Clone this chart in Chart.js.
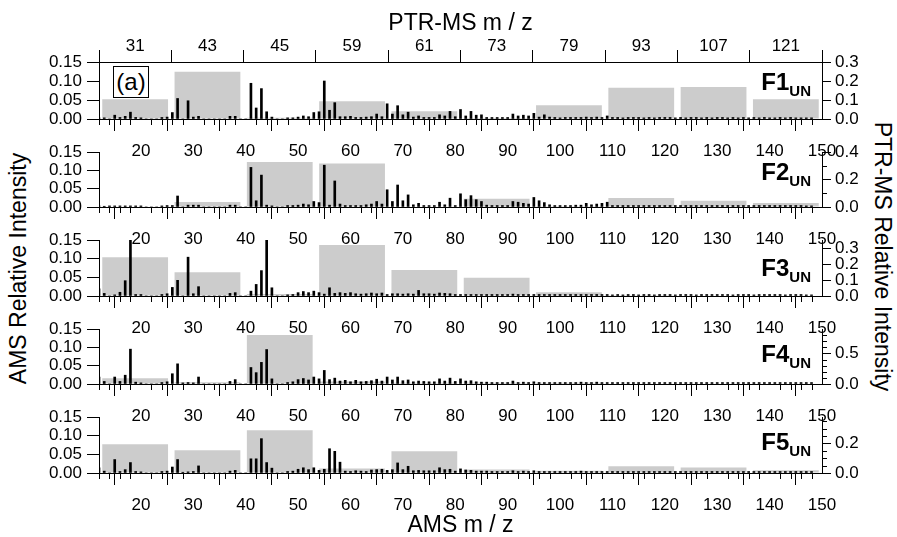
<!DOCTYPE html>
<html>
<head>
<meta charset="utf-8">
<script src="https://cdn.jsdelivr.net/npm/chart.js@4.4.1/dist/chart.umd.min.js"></script>
<style>
  body { margin: 0; background: #fff; width: 897px; height: 537px; overflow: hidden; position: relative;
         font-family: 'Liberation Sans', Arial, sans-serif; color: #000; }
  canvas { position: absolute; left: 0; }
  .flab { position: absolute; right: 86px; font-weight: bold; font-size: 24px; line-height: 1; }
  .flab sub { font-size: 15px; vertical-align: -6px; }
  .tag { position: absolute; left: 113px; top: 66px; width: 34px; height: 30px; border: 1.5px solid #000;
         font-size: 24px; line-height: 30px; text-align: center; }
  .ytitle { position: absolute; font-size: 23px; white-space: nowrap; transform-origin: center center; }
</style>
</head>
<body>
<div class="ytitle" id="leftTitle">AMS Relative Intensity</div>
<div class="ytitle" id="rightTitle">PTR-MS Relative Intensity</div>
<div class="tag">(a)</div>

<script>
// AMS m/z axis (bottom) and PTR-MS ions (top)
const amsMz = [];
for (let m = 12; m <= 150; m++) amsMz.push(m);
const amsTicks = [20, 30, 40, 50, 60, 70, 80, 90, 100, 110, 120, 130, 140, 150];
const amsYTicks = [0, 0.05, 0.10, 0.15];
const ptrLabels = ['31', '43', '45', '59', '61', '73', '79', '93', '107', '121'];
const factorNames = ['F1', 'F2', 'F3', 'F4', 'F5'];

// AMS spectra, m/z 12 ... 150
const amsF1 = [
  0.003, 0.003, 0, 0.010, 0.004, 0.007, 0.018, 0.004, 0.003, 0, 0, 0, 0.004, 0.005, 0.017, 0.054, 0, 0.048, 0.005,
  0.007, 0, 0, 0, 0, 0, 0.007, 0.007, 0, 0, 0.094, 0.029, 0.080, 0.019, 0.005, 0, 0, 0.003, 0.003,
  0.005, 0.008, 0.006, 0.017, 0.019, 0.100, 0.023, 0.043, 0.006, 0.006, 0.007, 0.004, 0.004, 0.005, 0.006, 0.013, 0.006,
  0.040, 0.013, 0.035, 0.011, 0.018, 0.005, 0.008, 0.004, 0.004, 0.004, 0.011, 0.008, 0.020, 0.006, 0.025, 0.008, 0.020,
  0.010, 0.011, 0.004, 0.004, 0.004, 0.004, 0.004, 0.013, 0.008, 0.010, 0.008, 0.015, 0.005, 0.011, 0.005, 0.004,
  0.003, 0.004, 0.004, 0.004, 0.004, 0.005, 0.004, 0.005, 0.004, 0.008, 0.004, 0.004, 0.003, 0.004, 0.004, 0.004,
  0.003, 0.004, 0.003, 0.004, 0.004, 0.004, 0.003, 0.004, 0.003, 0.004, 0.004, 0.003, 0.004, 0.003, 0.004, 0.004,
  0.003, 0.004, 0.003, 0.004, 0.003, 0.004, 0.003, 0.004, 0.003, 0.003, 0.004, 0.003, 0.004, 0.003, 0.003, 0.003, 0.003
];
const amsF2 = [
  0.003, 0.002, 0.003, 0.003, 0.003, 0.003, 0.003, 0.003, 0.003, 0, 0, 0, 0.003, 0.004, 0.004, 0.030, 0, 0.005, 0.005,
  0.005, 0, 0, 0, 0, 0, 0.005, 0.005, 0, 0, 0.108, 0.017, 0.087, 0.005, 0.003, 0, 0, 0.004, 0.004,
  0.005, 0.008, 0.006, 0.015, 0.012, 0.114, 0.005, 0.071, 0.008, 0.004, 0.004, 0.004, 0.004, 0.006, 0.008, 0.015, 0.008,
  0.047, 0.015, 0.060, 0.017, 0.033, 0.006, 0.010, 0.004, 0.004, 0.004, 0.013, 0.006, 0.024, 0.004, 0.036, 0.020, 0.031,
  0.020, 0.015, 0.005, 0.004, 0.004, 0.004, 0.004, 0.015, 0.013, 0.010, 0.008, 0.026, 0.017, 0.012, 0.006, 0.004,
  0.004, 0.004, 0.004, 0.005, 0.005, 0.010, 0.006, 0.008, 0.010, 0.013, 0.004, 0.004, 0.004, 0.004, 0.004, 0.004,
  0.004, 0.004, 0.004, 0.004, 0.004, 0.004, 0.004, 0.004, 0.004, 0.004, 0.004, 0.004, 0.004, 0.004, 0.004, 0.004,
  0.004, 0.004, 0.004, 0.004, 0.004, 0.004, 0.004, 0.004, 0.004, 0.004, 0.004, 0.004, 0.004, 0.004, 0.004, 0.003, 0.003
];
const amsF3 = [
  0.019, 0.007, 0, 0.003, 0.010, 0.041, 0.150, 0.004, 0.004, 0, 0, 0, 0.004, 0.006, 0.023, 0.042, 0, 0.104, 0.006,
  0.025, 0, 0, 0, 0, 0, 0.007, 0.009, 0, 0, 0.013, 0.031, 0.068, 0.150, 0.022, 0, 0, 0.003, 0.004,
  0.009, 0.012, 0.009, 0.013, 0.009, 0.005, 0.022, 0.007, 0.009, 0.007, 0.009, 0.006, 0.005, 0.006, 0.008, 0.006, 0.008,
  0.004, 0.006, 0.006, 0.005, 0.006, 0.005, 0.015, 0.006, 0.006, 0.005, 0.008, 0.007, 0.006, 0.004, 0.004, 0.004, 0.004,
  0.004, 0.004, 0.004, 0.004, 0.004, 0.004, 0.004, 0.005, 0.004, 0.004, 0.004, 0.004, 0.004, 0.004, 0.004, 0.004,
  0.004, 0.004, 0.004, 0.004, 0.004, 0.004, 0.004, 0.004, 0.004, 0.004, 0.003, 0.004, 0.003, 0.004, 0.004, 0.003,
  0.004, 0.004, 0.003, 0.004, 0.004, 0.004, 0.003, 0.004, 0.004, 0.004, 0.003, 0.004, 0.004, 0.004, 0.004, 0.004,
  0.004, 0.003, 0.004, 0.004, 0.004, 0.003, 0.004, 0.004, 0.004, 0.004, 0.004, 0.003, 0.004, 0.004, 0.004, 0.003, 0.003
];
const amsF4 = [
  0.019, 0.007, 0, 0.019, 0.007, 0.024, 0.095, 0.005, 0.003, 0, 0, 0, 0.004, 0.006, 0.028, 0.055, 0.003, 0.004, 0.003,
  0.019, 0, 0, 0, 0, 0, 0.007, 0.012, 0, 0, 0.045, 0.031, 0.059, 0.094, 0.014, 0, 0, 0.004, 0.006,
  0.012, 0.015, 0.011, 0.019, 0.014, 0.037, 0.012, 0.016, 0.008, 0.010, 0.006, 0.010, 0.006, 0.007, 0.009, 0.013, 0.008,
  0.019, 0.011, 0.019, 0.009, 0.011, 0.006, 0.008, 0.007, 0.006, 0.006, 0.014, 0.008, 0.016, 0.007, 0.014, 0.008, 0.009,
  0.006, 0.005, 0.005, 0.004, 0.004, 0.004, 0.004, 0.008, 0.004, 0.005, 0.004, 0.006, 0.004, 0.004, 0.004, 0.004,
  0.004, 0.004, 0.004, 0.004, 0.005, 0.004, 0.004, 0.005, 0.004, 0.004, 0.004, 0.004, 0.004, 0.004, 0.004, 0.004,
  0.004, 0.004, 0.004, 0.004, 0.004, 0.004, 0.004, 0.004, 0.004, 0.004, 0.004, 0.004, 0.004, 0.004, 0.004, 0.004,
  0.004, 0.004, 0.004, 0.004, 0.004, 0.004, 0.004, 0.004, 0.004, 0.004, 0.004, 0.004, 0.004, 0.004, 0.004, 0.004, 0.004
];
const amsF5 = [
  0.014, 0.005, 0, 0.036, 0.004, 0.009, 0.028, 0.004, 0.003, 0, 0, 0, 0.004, 0.005, 0.016, 0.036, 0.002, 0.003, 0.004,
  0.019, 0, 0, 0, 0, 0, 0.005, 0.007, 0, 0, 0.038, 0.038, 0.092, 0.028, 0.013, 0, 0, 0.004, 0.005,
  0.010, 0.014, 0.009, 0.014, 0.007, 0.010, 0.065, 0.058, 0.029, 0.005, 0.004, 0.006, 0.005, 0.004, 0.008, 0.009, 0.010,
  0.007, 0.009, 0.027, 0.009, 0.018, 0.006, 0.007, 0.006, 0.006, 0.006, 0.014, 0.009, 0.010, 0.005, 0.011, 0.008, 0.007,
  0.005, 0.005, 0.005, 0.004, 0.004, 0.004, 0.004, 0.006, 0.004, 0.005, 0.004, 0.006, 0.004, 0.004, 0.004, 0.004,
  0.004, 0.004, 0.004, 0.004, 0.005, 0.004, 0.004, 0.004, 0.004, 0.004, 0.004, 0.004, 0.004, 0.004, 0.004, 0.004,
  0.004, 0.004, 0.004, 0.004, 0.004, 0.004, 0.004, 0.004, 0.004, 0.004, 0.004, 0.004, 0.004, 0.004, 0.004, 0.004,
  0.004, 0.004, 0.004, 0.004, 0.004, 0.004, 0.004, 0.004, 0.004, 0.004, 0.004, 0.004, 0.004, 0.004, 0.004, 0.004, 0.004
];

// PTR-MS spectra, one value per ion in ptrLabels
const ptrF1 = [0.104, 0.249, 0.007, 0.094, 0.041, 0.005, 0.072, 0.164, 0.169, 0.104];
const ptrF2 = [0.004, 0.036, 0.328, 0.316, 0.004, 0.060, 0.005, 0.065, 0.045, 0.030];
const ptrF3 = [0.243, 0.149, 0.013, 0.320, 0.163, 0.115, 0.023, 0.004, 0.003, 0.003];
const ptrF4 = [0.093, 0.030, 0.800, 0.040, 0.020, 0.020, 0.020, 0.010, 0.010, 0.010];
const ptrF5 = [0.195, 0.154, 0.290, 0.030, 0.148, 0.023, 0.015, 0.045, 0.037, 0.018];

// right axis ranges and ticks per panel
const ptrMax = [0.3, 0.4, 0.352, 0.9, 0.38];
const ptrMajor = [[0, 0.1, 0.2, 0.3], [0, 0.2, 0.4], [0, 0.1, 0.2, 0.3], [0, 0.5], [0, 0.2]];
const ptrMinor = [[], [0.1, 0.3], [], [0.1, 0.2, 0.3, 0.4, 0.6, 0.7, 0.8], [0.05, 0.1, 0.15, 0.25, 0.3, 0.35]];

const amsAll = [amsF1, amsF2, amsF3, amsF4, amsF5];
const ptrAll = [ptrF1, ptrF2, ptrF3, ptrF4, ptrF5];

// panel placement (pixels)
const panelTop = [62, 152, 240, 329, 417];
const panelBottom = [119, 207, 296, 384, 473];
const labelTop = [70, 160, 256, 342, 430];
const plotLeft = 99, plotRight = 822;

Chart.defaults.font.family = "'Liberation Sans', Arial, sans-serif";
Chart.defaults.font.size = 17;
Chart.defaults.color = '#000';

const xMinor = [];
for (let v = 12; v <= 150; v += 2) if (v % 10 !== 0) xMinor.push(v);

const minorTicks = {
  id: 'minorTicks',
  afterDraw(chart, args, opts) {
    const ctx = chart.ctx, xs = chart.scales.x, y2 = chart.scales.y2;
    ctx.save();
    ctx.strokeStyle = '#000';
    ctx.lineWidth = 1;
    ctx.beginPath();
    xMinor.forEach(v => {
      const p = Math.round(xs.getPixelForValue(v)) + 0.5;
      ctx.moveTo(p, xs.top);
      ctx.lineTo(p, xs.top + 6);
    });
    (opts.y2 || []).forEach(v => {
      const p = Math.round(y2.getPixelForValue(v)) + 0.5;
      ctx.moveTo(y2.left, p);
      ctx.lineTo(y2.left + 5, p);
    });
    ctx.stroke();
    ctx.restore();
  }
};

function makePanel(i) {
  const top = i === 0 ? 0 : panelTop[i] - 20;
  const bottom = i === 4 ? 537 : panelBottom[i] + 48;
  const cv = document.createElement('canvas');
  cv.width = 897;
  cv.height = bottom - top;
  cv.style.top = top + 'px';
  document.body.appendChild(cv);

  const axisLine = { display: true, color: '#000', width: 1 };

  new Chart(cv, {
    type: 'bar',
    data: {
      datasets: [
        {
          label: 'AMS',
          data: amsMz.map((m, k) => ({ x: m, y: amsAll[i][k] })),
          xAxisID: 'x', yAxisID: 'y',
          backgroundColor: '#000', borderWidth: 0,
          barThickness: 2, grouped: false, order: 0
        },
        {
          label: 'PTR-MS',
          data: ptrAll[i],
          xAxisID: 'x2', yAxisID: 'y2',
          backgroundColor: '#cccccc', borderWidth: 0,
          categoryPercentage: 1, barPercentage: 0.91, grouped: false, order: 1
        }
      ]
    },
    options: {
      responsive: false,
      animation: false,
      events: [],
      layout: { padding: { top: i === 0 ? 0 : 20, left: 0, right: 0, bottom: 0 } },
      plugins: { legend: { display: false }, tooltip: { enabled: false }, minorTicks: { y2: ptrMinor[i] } },
      scales: {
        x: {
          type: 'linear', position: 'bottom', min: 12, max: 150, offset: false,
          afterBuildTicks: s => { s.ticks = amsTicks.map(v => ({ value: v })); },
          grid: { drawOnChartArea: false, tickLength: 12, color: '#000' },
          border: axisLine,
          ticks: { padding: 10, maxRotation: 0, autoSkip: false, callback: v => String(v) },
          title: { display: i === 4, text: 'AMS m / z', font: { size: 23 }, padding: { top: 0, bottom: -2 } },
          afterFit: s => { s.height = bottom - panelBottom[i]; }
        },
        x2: {
          type: 'category', labels: ptrLabels, position: 'top', offset: true, display: i === 0,
          grid: { offset: true, drawOnChartArea: false, tickLength: 12, color: '#000' },
          border: axisLine,
          ticks: { padding: -7, maxRotation: 0, autoSkip: false },
          title: { display: true, text: 'PTR-MS m / z', font: { size: 23 }, padding: { top: 10, bottom: 0 } },
          afterFit: s => { if (i === 0) s.height = panelTop[0]; }
        },
        y: {
          position: 'left', min: 0, max: 0.15,
          afterBuildTicks: s => { s.ticks = amsYTicks.map(v => ({ value: v })); },
          grid: { drawOnChartArea: false, tickLength: 12, color: '#000' },
          border: axisLine,
          ticks: { padding: 5, autoSkip: false, callback: v => v.toFixed(2) },
          afterFit: s => { s.width = plotLeft; }
        },
        y2: {
          position: 'right', min: 0, max: ptrMax[i],
          afterBuildTicks: s => { s.ticks = ptrMajor[i].map(v => ({ value: v })); },
          grid: { drawOnChartArea: false, tickLength: 9, color: '#000' },
          border: axisLine,
          ticks: { padding: 4, autoSkip: false, callback: v => v.toFixed(1) },
          afterFit: s => { s.width = 897 - plotRight; }
        }
      }
    },
    plugins: [minorTicks]
  });

  const lab = document.createElement('div');
  lab.className = 'flab';
  lab.style.top = labelTop[i] + 'px';
  lab.innerHTML = factorNames[i] + '<sub>UN</sub>';
  document.body.appendChild(lab);
}

for (let i = 0; i < 5; i++) makePanel(i);

// rotated side titles
const lt = document.getElementById('leftTitle');
lt.style.left = (18 - lt.offsetWidth / 2) + 'px';
lt.style.top = (268 - lt.offsetHeight / 2) + 'px';
lt.style.transform = 'rotate(-90deg)';
const rt = document.getElementById('rightTitle');
rt.style.left = (883 - rt.offsetWidth / 2) + 'px';
rt.style.top = (256 - rt.offsetHeight / 2) + 'px';
rt.style.transform = 'rotate(90deg)';
</script>
</body>
</html>
